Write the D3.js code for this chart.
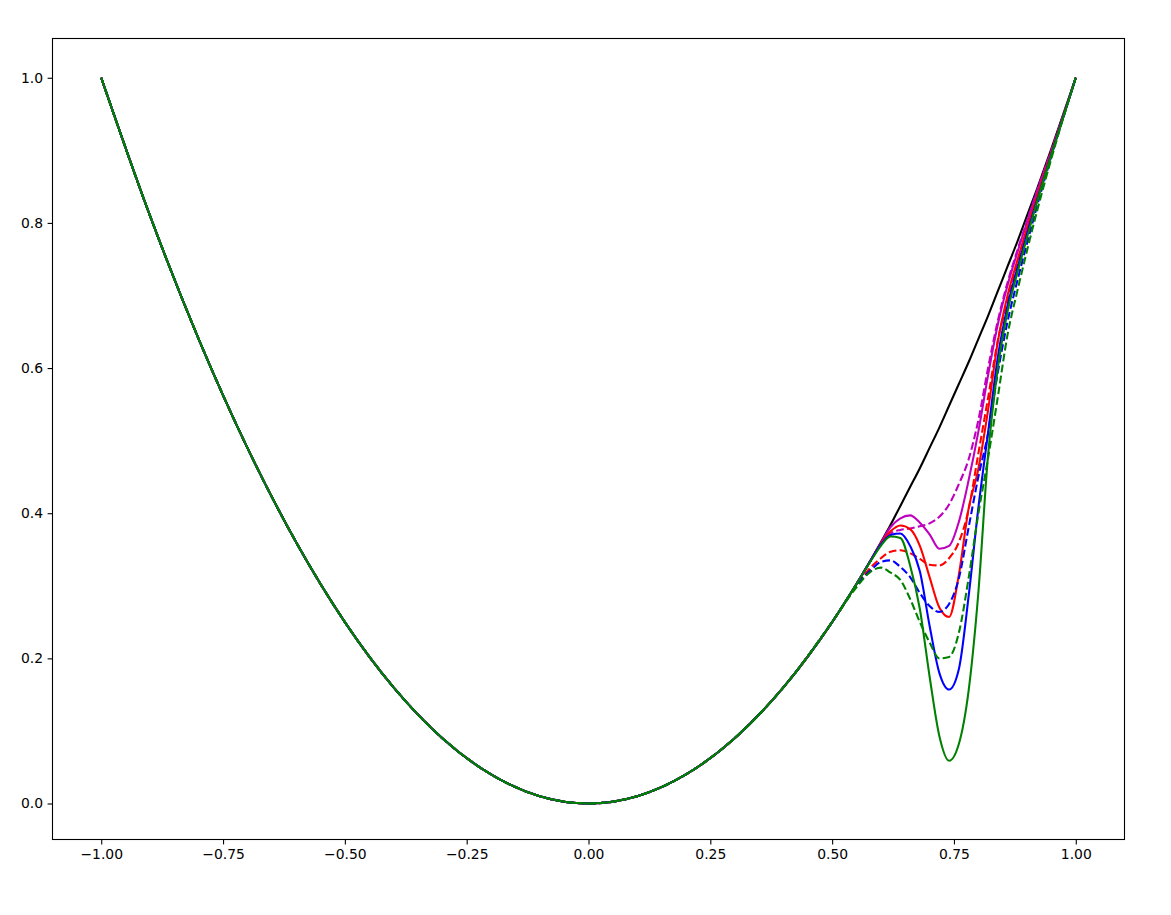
<!DOCTYPE html>
<html>
<head>
<meta charset="utf-8">
<script src="https://cdn.jsdelivr.net/npm/d3@7"></script>
<style>
	body { margin: 0; background: #fff; }
	text { font-family: 'DejaVu Sans', sans-serif; }
</style>
</head>
<body>
<div id="container"></div>
<script>
// shared left part of every curve (they all lie on the same parabola there)
const baseX = [-1.0, -0.9, -0.8, -0.7, -0.6, -0.5, -0.4, -0.3, -0.2, -0.1, 0.0, 0.1, 0.2, 0.3, 0.4, 0.5];
const baseY = [1.0, 0.81, 0.64, 0.49, 0.36, 0.25, 0.16, 0.09, 0.04, 0.01, 0.0, 0.01, 0.04, 0.09, 0.16, 0.25];

// right part, where the curves split
const tailX = [0.55, 0.58, 0.60, 0.62, 0.64, 0.66, 0.68, 0.70, 0.72, 0.74, 0.76, 0.78, 0.80, 0.82, 0.84, 0.86, 0.88, 0.90, 0.92, 0.95, 1.0];

const blackTail = [0.3025, 0.336, 0.36, 0.384, 0.410, 0.436, 0.462, 0.49, 0.518, 0.548, 0.578, 0.608, 0.64, 0.672, 0.706, 0.740, 0.774, 0.81, 0.846, 0.9025, 1.0];
const magentaTail = [0.3025, 0.336, 0.359, 0.381, 0.393, 0.397, 0.387, 0.371, 0.351, 0.355, 0.388, 0.445, 0.512, 0.590, 0.660, 0.714, 0.759, 0.801, 0.842, 0.899, 1.0];
const magentaDashTail = [0.3025, 0.336, 0.357, 0.372, 0.377, 0.379, 0.382, 0.386, 0.395, 0.412, 0.440, 0.474, 0.528, 0.600, 0.665, 0.718, 0.762, 0.803, 0.843, 0.900, 1.0];
const redTail = [0.3025, 0.336, 0.358, 0.375, 0.383, 0.378, 0.355, 0.312, 0.270, 0.257, 0.315, 0.406, 0.461, 0.542, 0.636, 0.700, 0.748, 0.793, 0.836, 0.897, 1.0];
const redDashTail = [0.300, 0.326, 0.338, 0.347, 0.349, 0.345, 0.337, 0.329, 0.328, 0.338, 0.360, 0.405, 0.482, 0.559, 0.638, 0.693, 0.742, 0.789, 0.833, 0.896, 1.0];
const blueTail = [0.3025, 0.336, 0.357, 0.370, 0.372, 0.355, 0.320, 0.245, 0.180, 0.157, 0.185, 0.285, 0.407, 0.511, 0.615, 0.686, 0.737, 0.785, 0.830, 0.895, 1.0];
const blueDashTail = [0.300, 0.322, 0.333, 0.335, 0.326, 0.312, 0.290, 0.272, 0.264, 0.275, 0.310, 0.380, 0.450, 0.510, 0.594, 0.664, 0.720, 0.772, 0.822, 0.892, 1.0];
const greenTail = [0.3025, 0.335, 0.355, 0.368, 0.366, 0.328, 0.268, 0.175, 0.093, 0.059, 0.082, 0.155, 0.290, 0.480, 0.600, 0.678, 0.731, 0.780, 0.828, 0.894, 1.0];
const greenDashTail = [0.298, 0.320, 0.325, 0.318, 0.308, 0.282, 0.250, 0.222, 0.200, 0.202, 0.235, 0.310, 0.399, 0.476, 0.560, 0.646, 0.706, 0.762, 0.815, 0.889, 1.0];

const xTicks = [-1.0, -0.75, -0.5, -0.25, 0.0, 0.25, 0.5, 0.75, 1.0];
const yTicks = [0.0, 0.2, 0.4, 0.6, 0.8, 1.0];

const series = [
	{ tail: blackTail, color: '#000000', dashed: false },
	{ tail: magentaTail, color: '#bf00bf', dashed: false },
	{ tail: magentaDashTail, color: '#bf00bf', dashed: true },
	{ tail: redTail, color: '#ff0000', dashed: false },
	{ tail: redDashTail, color: '#ff0000', dashed: true },
	{ tail: blueTail, color: '#0000ff', dashed: false },
	{ tail: blueDashTail, color: '#0000ff', dashed: true },
	{ tail: greenTail, color: '#008000', dashed: false },
	{ tail: greenDashTail, color: '#008000', dashed: true },
];

(function () {
	'use strict';
	let options = {
		width: 1171,
		height: 915,
		left: 52.5,
		right: 1124.5,
		top: 38.5,
		bottom: 839.5,
	};

	let svg = d3.select('#container')
		.append('svg')
		.attr('width', options.width)
		.attr('height', options.height)
		.style('display', 'block')
		.style('background-color', '#fff');

	let x = d3.scaleLinear().domain([-1.1, 1.1]).range([options.left, options.right]);
	let y = d3.scaleLinear().domain([-0.0496, 1.0541]).range([options.bottom, options.top]);

	let allX = baseX.concat(tailX);

	let line = d3.line()
		.x((d) => x(d[0]))
		.y((d) => y(d[1]))
		.curve(d3.curveMonotoneX);

	svg.append('clipPath').attr('id', 'plotclip')
		.append('rect')
		.attr('x', options.left)
		.attr('y', options.top)
		.attr('width', options.right - options.left)
		.attr('height', options.bottom - options.top);

	let plot = svg.append('g').attr('clip-path', 'url(#plotclip)');

	series.forEach((s) => {
		let ys = baseY.concat(s.tail);
		let pts = allX.map((v, i) => [v, ys[i]]);
		plot.append('path')
			.attr('d', line(pts))
			.attr('fill', 'none')
			.attr('stroke', s.color)
			.attr('stroke-width', 2.08)
			.attr('stroke-linecap', 'butt')
			.attr('stroke-dasharray', s.dashed ? '7.7,3.3' : null);
	});

	let fmtX = (d) => d3.format('.2f')(d).replace('-', '\u2212');
	let fmtY = (d) => d3.format('.1f')(d);

	let xAxis = svg.append('g')
		.attr('transform', 'translate(0,' + options.bottom + ')')
		.call(d3.axisBottom(x).tickValues(xTicks).tickFormat(fmtX).tickSizeOuter(0).tickSize(4.9).tickPadding(4.5));

	let yAxis = svg.append('g')
		.attr('transform', 'translate(' + options.left + ',0)')
		.call(d3.axisLeft(y).tickValues(yTicks).tickFormat(fmtY).tickSizeOuter(0).tickSize(4.9).tickPadding(4.5));

	[xAxis, yAxis].forEach((a) => {
		a.select('.domain').remove();
		a.selectAll('line').attr('stroke', '#000').attr('stroke-width', 1.1);
		a.selectAll('text')
			.attr('fill', '#000')
			.style('font-family', "'DejaVu Sans', sans-serif")
			.style('font-size', '13.9px');
	});

	svg.append('rect')
		.attr('x', options.left)
		.attr('y', options.top)
		.attr('width', options.right - options.left)
		.attr('height', options.bottom - options.top)
		.attr('fill', 'none')
		.attr('stroke', '#000')
		.attr('stroke-width', 1.1);
})();
</script>
</body>
</html>
